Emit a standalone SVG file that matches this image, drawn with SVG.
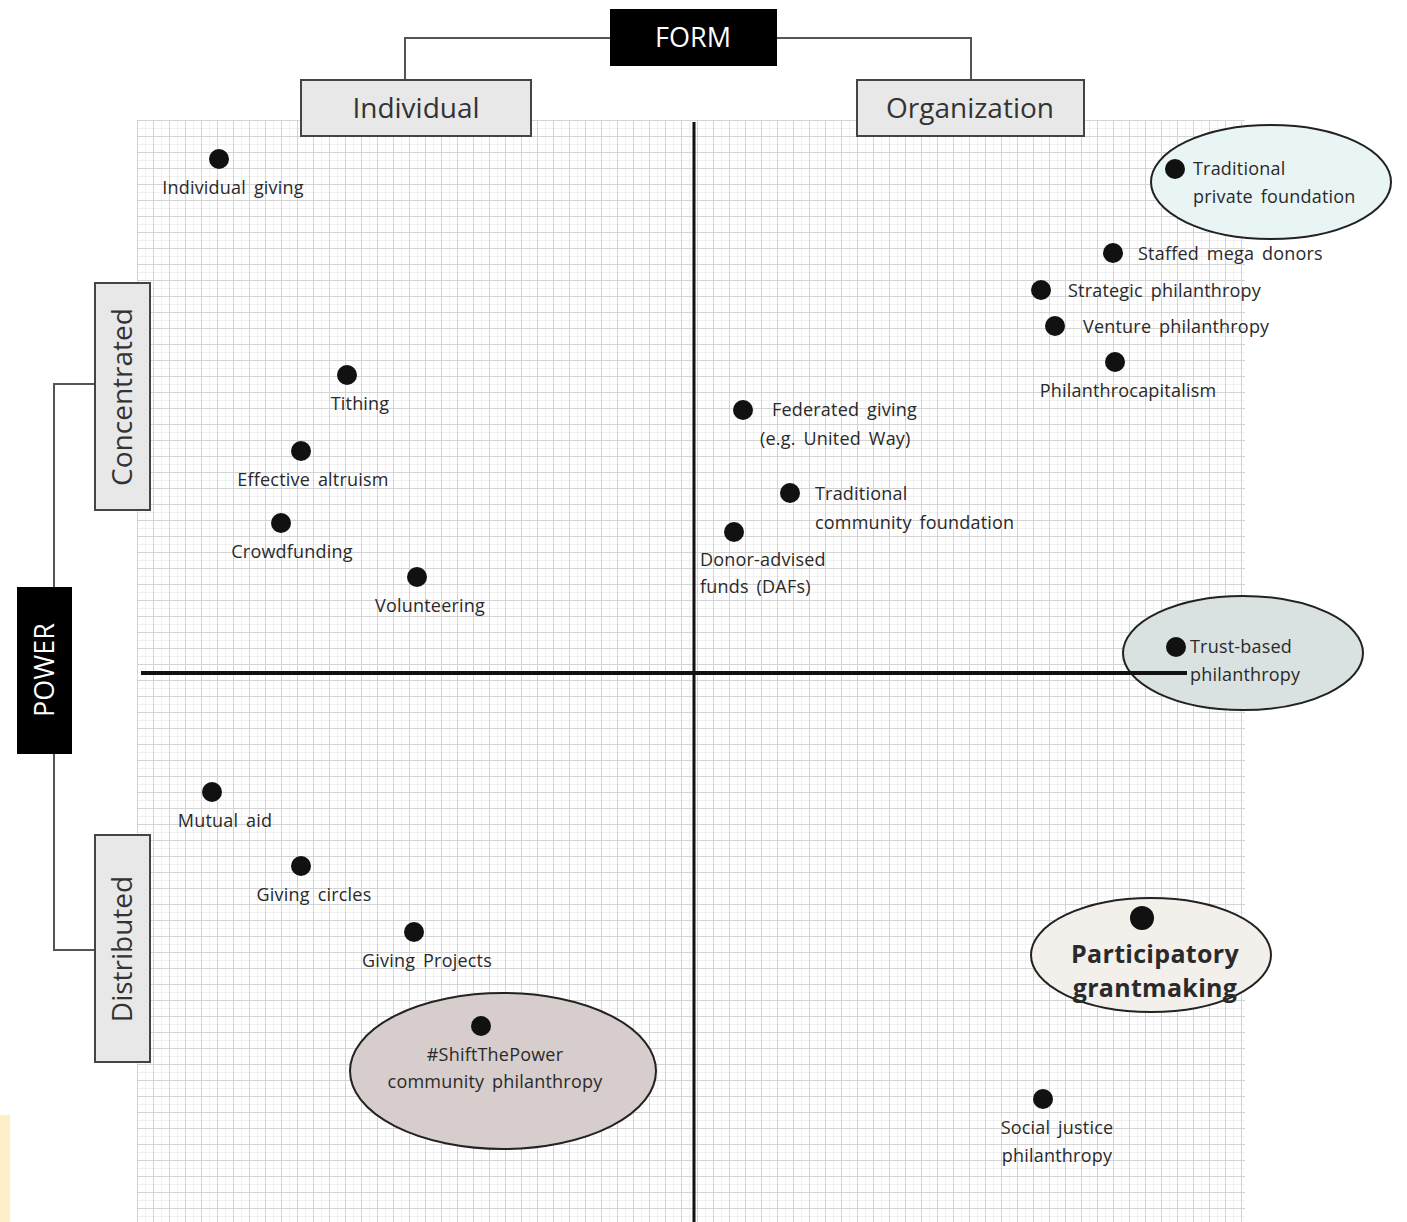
<svg xmlns="http://www.w3.org/2000/svg" width="1407" height="1222" viewBox="0 0 1407 1222">
<defs>
<pattern id="grid" x="137" y="120" width="16" height="16" patternUnits="userSpaceOnUse">
<path d="M0 8.5H16M8.5 0V16" stroke="#f1f1f1" stroke-width="1" fill="none"/>
<path d="M0 0.5H16M0.5 0V16" stroke="#d4d4d4" stroke-width="1" fill="none"/>
</pattern>
<style>
.lbl{font-family:"Open Sans","Liberation Sans",sans-serif;font-size:18px;fill:#2a2a2a;word-spacing:3px;letter-spacing:0.2px}
.mid{text-anchor:middle}
.dot{fill:#111}
.hdr{fill:#e8e8e8;stroke:#444;stroke-width:2}
.hdrt{font-family:"Open Sans","Liberation Sans",sans-serif;font-size:28px;fill:#333;text-anchor:middle}
.blk{fill:#000}
.blkt{font-family:"Open Sans","Liberation Sans",sans-serif;font-size:27px;fill:#fff;text-anchor:middle}
.conn{fill:none;stroke:#555;stroke-width:2}
.ell{stroke:#222;stroke-width:2}
.big{font-size:25px;font-weight:bold;word-spacing:0;letter-spacing:0.3px}
</style>
</defs>
<rect width="1407" height="1222" fill="#fff"/>
<rect x="137" y="120" width="1108" height="1102" fill="url(#grid)"/>
<rect x="0" y="1115" width="10" height="107" fill="#fdefc8"/>

<g id="connectors">
<path class="conn" d="M610 38H405V80"/>
<path class="conn" d="M777 38H971V80"/>
<path class="conn" d="M95 384H54V587"/>
<path class="conn" d="M54 754V950H95"/>
</g>

<g id="axes">
<line x1="694" y1="122" x2="694" y2="1222" stroke="#111" stroke-width="3"/>
</g>

<g id="ellipses">
<ellipse class="ell" cx="1271" cy="182" rx="120" ry="57" fill="#e9f4f5"/>
<ellipse class="ell" cx="1243" cy="653" rx="120" ry="57" fill="#d9e1e1"/>
<ellipse class="ell" cx="1151" cy="955" rx="120" ry="57" fill="#f3efeb"/>
<ellipse class="ell" cx="503" cy="1071" rx="153" ry="78" fill="#d6cdcc"/>
</g>
<line x1="141" y1="673" x2="1187" y2="673" stroke="#111" stroke-width="4"/>

<g id="form"><rect class="blk" x="610" y="9" width="167" height="57"/><text class="blkt" x="693" y="47">FORM</text></g>
<g id="individual"><rect class="hdr" x="301" y="80" width="230" height="56"/><text class="hdrt" x="416" y="118">Individual</text></g>
<g id="organization"><rect class="hdr" x="857" y="80" width="227" height="56"/><text class="hdrt" x="970" y="118">Organization</text></g>
<g id="power"><rect class="blk" x="17" y="587" width="55" height="167"/><text class="blkt" transform="translate(54 670) rotate(-90)">POWER</text></g>
<g id="concentrated"><rect class="hdr" x="95" y="283" width="55" height="227"/><text class="hdrt" transform="translate(132 397) rotate(-90)">Concentrated</text></g>
<g id="distributed"><rect class="hdr" x="95" y="835" width="55" height="227"/><text class="hdrt" transform="translate(132 949) rotate(-90)">Distributed</text></g>

<g id="individual-giving"><circle class="dot" cx="219" cy="159" r="10"/><text class="lbl mid" x="233" y="194">Individual giving</text></g>
<g id="tithing"><circle class="dot" cx="347" cy="375" r="10"/><text class="lbl mid" x="360" y="410">Tithing</text></g>
<g id="effective-altruism"><circle class="dot" cx="301" cy="451" r="10"/><text class="lbl mid" x="313" y="486">Effective altruism</text></g>
<g id="crowdfunding"><circle class="dot" cx="281" cy="523" r="10"/><text class="lbl mid" x="292" y="558">Crowdfunding</text></g>
<g id="volunteering"><circle class="dot" cx="417" cy="577" r="10"/><text class="lbl mid" x="430" y="612">Volunteering</text></g>
<g id="mutual-aid"><circle class="dot" cx="212" cy="792" r="10"/><text class="lbl mid" x="225" y="827">Mutual aid</text></g>
<g id="giving-circles"><circle class="dot" cx="301" cy="866" r="10"/><text class="lbl mid" x="314" y="901">Giving circles</text></g>
<g id="giving-projects"><circle class="dot" cx="414" cy="932" r="10"/><text class="lbl mid" x="427" y="967">Giving Projects</text></g>
<g id="shift-the-power"><circle class="dot" cx="481" cy="1026" r="10"/><text class="lbl mid" x="495" y="1061">#ShiftThePower</text><text class="lbl mid" x="495" y="1088">community philanthropy</text></g>

<g id="federated-giving"><circle class="dot" cx="743" cy="410" r="10"/><text class="lbl" x="772" y="416">Federated giving</text><text class="lbl" x="760" y="445">(e.g. United Way)</text></g>
<g id="community-foundation"><circle class="dot" cx="790" cy="493" r="10"/><text class="lbl" x="815" y="500">Traditional</text><text class="lbl" x="815" y="529">community foundation</text></g>
<g id="dafs"><circle class="dot" cx="734" cy="532" r="10"/><text class="lbl" x="700" y="566">Donor-advised</text><text class="lbl" x="700" y="593">funds (DAFs)</text></g>
<g id="private-foundation"><circle class="dot" cx="1175" cy="169" r="10"/><text class="lbl" x="1193" y="175">Traditional</text><text class="lbl" x="1193" y="203">private foundation</text></g>
<g id="staffed-mega-donors"><circle class="dot" cx="1113" cy="253" r="10"/><text class="lbl" x="1138" y="260">Staffed mega donors</text></g>
<g id="strategic-philanthropy"><circle class="dot" cx="1041" cy="290" r="10"/><text class="lbl" x="1068" y="297">Strategic philanthropy</text></g>
<g id="venture-philanthropy"><circle class="dot" cx="1055" cy="326" r="10"/><text class="lbl" x="1083" y="333">Venture philanthropy</text></g>
<g id="philanthrocapitalism"><circle class="dot" cx="1115" cy="362" r="10"/><text class="lbl mid" x="1128" y="397">Philanthrocapitalism</text></g>
<g id="trust-based"><circle class="dot" cx="1176" cy="647" r="10"/><text class="lbl" x="1190" y="653">Trust-based</text><text class="lbl" x="1190" y="681">philanthropy</text></g>
<g id="participatory"><circle class="dot" cx="1142" cy="918" r="12"/><text class="lbl mid big" x="1155" y="963">Participatory</text><text class="lbl mid big" x="1155" y="997">grantmaking</text></g>
<g id="social-justice"><circle class="dot" cx="1043" cy="1099" r="10"/><text class="lbl mid" x="1057" y="1134">Social justice</text><text class="lbl mid" x="1057" y="1162">philanthropy</text></g>
</svg>
